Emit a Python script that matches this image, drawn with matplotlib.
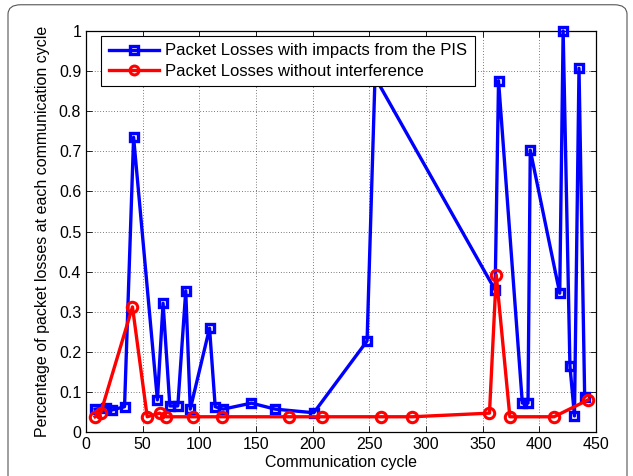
import matplotlib
matplotlib.use("Agg")
import matplotlib.pyplot as plt
from matplotlib.patches import FancyBboxPatch

plt.rcParams['font.family'] = ['Liberation Sans', 'DejaVu Sans']

# blue series: losses with PIS impacts
pis_x = [8, 18, 23, 34, 42, 63, 68, 74, 81, 88, 92, 109, 114, 121, 146, 167,
         201, 248, 255, 361, 364, 385, 390, 392, 418, 421, 427, 431, 435, 440]
pis_y = [0.057, 0.061, 0.055, 0.063, 0.735, 0.080, 0.321, 0.065, 0.065, 0.352,
         0.057, 0.259, 0.063, 0.057, 0.072, 0.057, 0.048, 0.227, 0.885, 0.354,
         0.876, 0.072, 0.072, 0.703, 0.346, 1.0, 0.165, 0.040, 0.907, 0.088]

# red series: losses without interference
clean_x = [8, 13, 41, 54, 65, 71, 94, 120, 179, 208, 260, 288, 356, 362, 374, 413, 443]
clean_y = [0.038, 0.048, 0.312, 0.038, 0.047, 0.038, 0.038, 0.038, 0.038, 0.038,
           0.038, 0.038, 0.047, 0.392, 0.038, 0.038, 0.080]

xticks = list(range(0, 451, 50))
yticks = [i / 10 for i in range(11)]
ytick_labels = ['0'] + [f'{v:.1f}' for v in yticks[1:-1]] + ['1']

fig = plt.figure(figsize=(6.33, 4.76), dpi=100)
ax = fig.add_axes([86 / 633, 1 - 432 / 476, 510 / 633, 401 / 476])

# rounded frame around the whole figure
frame = FancyBboxPatch((8 / 633, -0.05), 619 / 633, 1.04, boxstyle="round,pad=0,rounding_size=0.02",
                       transform=fig.transFigure, facecolor='none', edgecolor='#555555',
                       linewidth=0.8, zorder=0)
fig.patches.append(frame)

ax.plot(pis_x, pis_y, color='blue', linewidth=2.4, marker='s', markersize=6,
        markerfacecolor='none', markeredgewidth=2.4, markeredgecolor='blue',
        label='Packet Losses with impacts from the PIS', clip_on=False, zorder=3)
ax.plot(clean_x, clean_y, color='red', linewidth=2.4, marker='o', markersize=7.5,
        markerfacecolor='none', markeredgewidth=2.2, markeredgecolor='red',
        label='Packet Losses without interference', clip_on=False, zorder=4)

ax.set_xlim(0, 450)
ax.set_ylim(0, 1)
ax.set_xticks(xticks)
ax.set_yticks(yticks)
ax.set_yticklabels(ytick_labels)
ax.tick_params(direction='in', top=True, right=True, labelsize=11.5, length=4, width=0.6)
ax.grid(True, linestyle=(0, (1, 3)), color='black', linewidth=0.5)
for s in ax.spines.values():
    s.set_linewidth(0.9)

ax.set_xlabel('Communication cycle', fontsize=11.5, labelpad=2)
ax.set_ylabel('Percentage of packet losses at each communication cycle', fontsize=11.5, labelpad=6)

leg = ax.legend(loc='upper left', bbox_to_anchor=(15 / 510, 1 - 5 / 401), borderaxespad=0,
                fontsize=12, fancybox=False, edgecolor='black', framealpha=1,
                handlelength=3.0, handletextpad=0.4, borderpad=0.45, labelspacing=0.3,
                markerscale=0.85)
leg.get_frame().set_linewidth(0.8)
leg.set_zorder(10)

fig.savefig('out.png', dpi=100)
